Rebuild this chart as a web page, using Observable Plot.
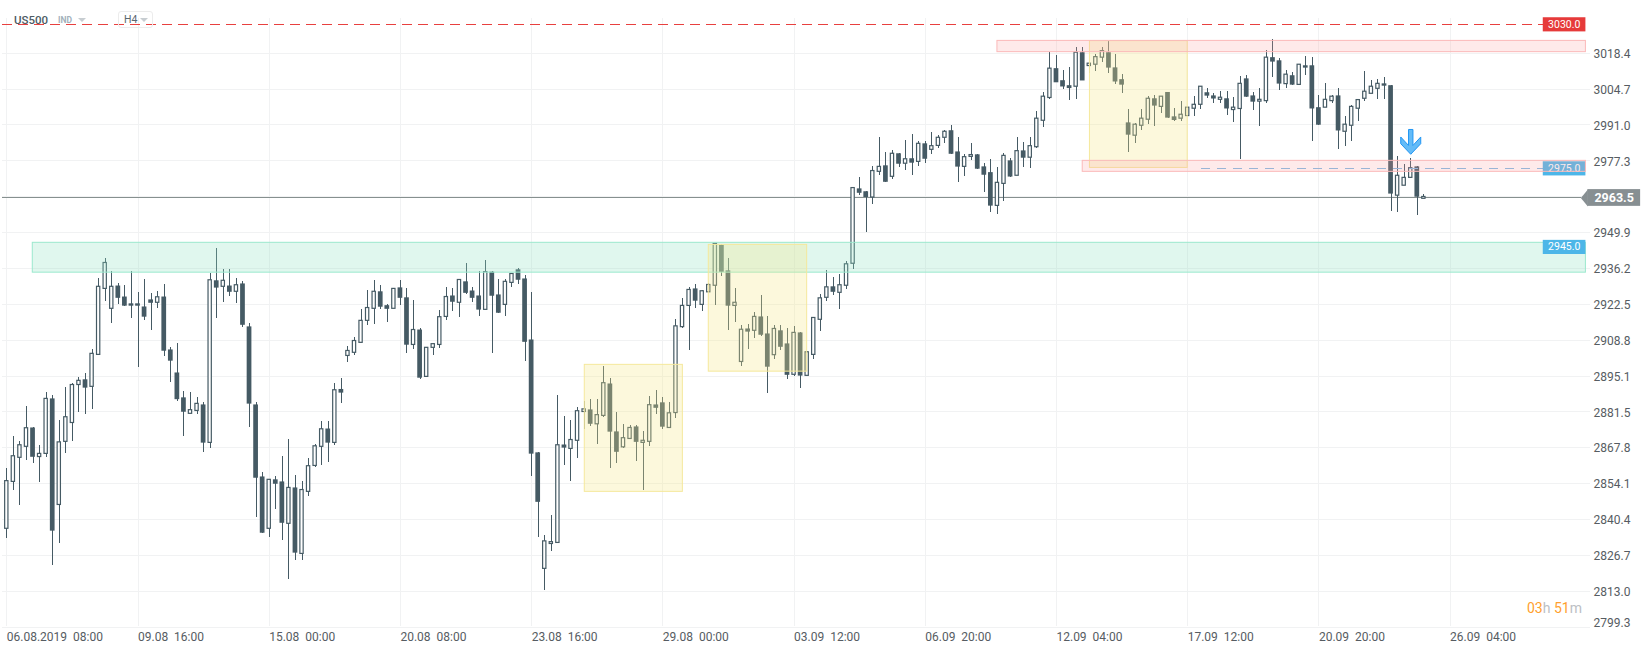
<!DOCTYPE html>
<html>
<head>
<meta charset="utf-8">
<script src="https://cdn.jsdelivr.net/npm/d3@7"></script>
<script src="https://cdn.jsdelivr.net/npm/@observablehq/plot@0.6"></script>
<style>
html,body{margin:0;padding:0;background:#fff;font-family:Roboto,sans-serif;}
#wrap{position:relative;width:1652px;height:652px;overflow:hidden;}
#wrap svg{display:block;}
.hd{position:absolute;white-space:nowrap;line-height:1;}
</style>
</head>
<body>
<div id="wrap">
  <div class="hd" style="left:14px;top:15px;font-size:11.5px;font-weight:500;color:#4d5b64;">US500</div>
  <div class="hd" style="left:58px;top:16px;font-size:8.5px;font-weight:700;color:#a3b1bb;">IND</div>
  <div class="hd" style="left:118px;top:11px;width:35px;height:17px;border:1px solid #ececec;border-radius:3px;box-sizing:border-box;"></div>
  <div class="hd" style="left:124px;top:15px;font-size:10.5px;color:#5b6870;">H4</div>
  <div class="hd" style="left:1527px;top:601px;font-size:14px;"><span style="color:#ff9f2e">03</span><span style="color:#bcc0c4">h</span>&nbsp;<span style="color:#ff9f2e">51</span><span style="color:#bcc0c4">m</span></div>
</div>
<script>
const high = [
2859.7,2872.0,2870.1,2883.5,2875.3,2868.6,2888.7,2887.7,2878.1,2890.7,
2892.2,2894.5,2896.1,2905.1,2932.2,2940.0,2935.0,2930.4,2929.7,2935.0,
2927.0,2932.0,2926.6,2927.4,2930.1,2906.0,2907.5,2889.4,2888.8,2886.9,
2885.2,2934.4,2943.8,2935.7,2935.7,2932.2,2931.2,2915.2,2884.9,2858.3,
2855.5,2856.7,2864.4,2870.9,2857.1,2854.8,2863.6,2868.8,2877.7,2877.7,
2892.2,2894.2,2906.4,2909.8,2920.5,2927.8,2931.5,2929.7,2922.3,2928.4,
2931.6,2928.5,2923.9,2913.1,2905.9,2907.4,2920.1,2928.9,2928.5,2931.8,
2938.1,2928.9,2935.0,2939.2,2935.0,2932.0,2932.0,2934.1,2936.2,2933.4,
2927.0,2865.8,2834.2,2841.8,2887.7,2879.6,2878.1,2883.3,2885.4,2886.0,
2886.1,2898.7,2894.0,2881.2,2876.6,2876.2,2876.1,2873.9,2887.3,2889.6,
2886.8,2885.0,2916.7,2924.8,2928.8,2930.1,2927.9,2930.3,2945.7,2945.3,
2940.0,2928.5,2914.4,2914.8,2919.4,2925.9,2917.8,2914.4,2914.3,2913.1,
2914.0,2911.7,2904.5,2917.3,2926.2,2935.4,2932.6,2933.9,2938.9,2967.0,
2970.9,2965.6,2975.0,2986.1,2980.4,2981.2,2980.1,2985.1,2987.4,2984.8,
2984.6,2988.1,2987.1,2988.9,2990.8,2986.1,2979.7,2983.9,2979.7,2976.3,
2977.7,2974.8,2980.1,2978.1,2986.1,2984.2,2986.1,2996.2,3003.3,3018.7,
3017.6,3011.7,3013.0,3020.5,3020.5,3014.5,3017.8,3020.5,3022.9,3017.9,
3010.2,2996.9,2991.7,2996.9,3001.9,3002.1,3001.8,3003.4,2997.2,3000.0,
2997.6,3001.9,3005.6,3004.9,3002.9,3003.8,3003.8,3001.5,3009.4,3009.9,
3003.4,3004.9,3019.5,3023.5,3016.4,3011.8,3010.9,3014.0,3017.0,3016.7,
3002.3,3006.9,3002.3,3004.8,2994.3,2998.5,3000.6,3011.4,3007.9,3008.4,
3009.2,3006.0,2978.9,2975.8,2978.1,2975.0,2964.3];
const low = [
2833.2,2851.5,2845.8,2863.0,2861.8,2854.6,2864.1,2822.9,2831.3,2865.6,
2870.2,2881.3,2880.5,2882.4,2903.2,2923.7,2915.3,2922.5,2921.8,2917.2,
2898.5,2916.4,2912.6,2921.0,2902.7,2892.8,2885.5,2872.1,2880.7,2880.5,
2866.0,2867.6,2917.2,2923.3,2925.6,2922.9,2913.8,2875.6,2841.2,2835.1,
2833.6,2844.3,2832.4,2817.5,2824.8,2824.8,2849.2,2860.3,2861.1,2862.2,
2868.7,2884.7,2900.4,2903.1,2907.8,2914.5,2914.9,2920.6,2915.7,2920.8,
2922.2,2903.8,2905.4,2893.9,2894.8,2903.1,2905.7,2916.4,2919.9,2917.6,
2926.2,2923.3,2918.0,2920.4,2903.8,2919.1,2918.0,2929.0,2930.2,2900.8,
2856.9,2833.6,2813.3,2828.2,2831.4,2861.1,2855.0,2863.7,2874.8,2876.0,
2869.1,2879.4,2859.9,2861.8,2867.6,2871.1,2862.6,2851.5,2868.3,2880.5,
2874.7,2875.3,2879.0,2913.1,2905.0,2921.0,2919.9,2927.1,2922.0,2933.3,
2912.6,2915.4,2898.9,2905.4,2909.6,2910.3,2888.6,2901.6,2905.0,2893.9,
2894.8,2890.5,2895.2,2901.6,2912.2,2923.7,2926.0,2920.6,2928.3,2935.9,
2964.2,2950.1,2960.7,2971.8,2969.1,2970.3,2974.9,2973.6,2971.8,2975.0,
2976.4,2979.8,2981.9,2984.0,2979.8,2969.1,2971.4,2977.6,2973.9,2965.3,
2957.7,2956.9,2961.9,2971.1,2971.6,2974.9,2974.5,2982.2,2990.2,3000.9,
3007.1,3004.7,3000.5,3000.9,3007.8,3010.8,3011.6,3014.9,3010.8,3006.6,
3003.0,2980.6,2984.1,2988.9,2991.3,2990.6,2995.4,2993.6,2992.5,2992.5,
2994.4,2994.1,2996.9,3001.1,2999.2,2999.3,2994.8,2992.1,2978.0,3001.6,
2996.7,2990.6,2999.3,3009.2,3004.3,3005.1,3006.2,3006.3,3009.7,2984.8,
2990.9,2997.6,2999.1,2981.8,2982.9,2984.8,2992.5,3000.1,3002.9,3000.9,
3000.9,2958.1,2957.7,2967.8,2970.7,2956.6,2962.8];
const open = [
2836.8,2854.7,2863.9,2868.1,2875.3,2864.2,2865.4,2886.4,2845.9,2870.0,
2877.2,2891.7,2893.7,2891.0,2903.2,2928.4,2920.8,2929.5,2925.3,2922.7,
2922.7,2921.5,2924.2,2923.1,2925.3,2905.1,2896.3,2886.8,2880.7,2881.8,
2884.1,2869.6,2931.5,2929.2,2929.5,2927.3,2930.3,2913.9,2884.1,2856.6,
2836.8,2855.5,2854.7,2838.7,2852.4,2827.2,2850.9,2860.8,2868.1,2874.9,
2869.6,2890.0,2902.8,2904.0,2907.8,2916.2,2920.8,2927.3,2922.0,2920.8,
2928.8,2925.0,2907.0,2912.7,2894.8,2905.9,2907.0,2917.7,2925.7,2923.1,
2931.1,2927.6,2925.7,2920.4,2934.8,2926.1,2922.3,2930.7,2935.7,2932.2,
2908.9,2865.8,2821.5,2831.0,2831.4,2868.8,2867.3,2870.4,2881.4,2882.2,
2876.7,2879.9,2892.1,2873.8,2867.9,2871.1,2875.7,2869.6,2870.0,2884.1,
2884.9,2875.3,2881.0,2913.8,2921.9,2928.4,2922.3,2927.1,2929.6,2945.0,
2935.3,2921.9,2900.5,2913.1,2912.4,2917.7,2911.2,2903.1,2912.4,2907.4,
2895.6,2911.6,2895.2,2903.2,2916.6,2925.0,2929.2,2926.9,2929.6,2938.0,
2966.6,2965.5,2963.3,2973.1,2975.4,2971.2,2980.0,2976.2,2978.1,2976.9,
2983.8,2981.5,2983.0,2986.1,2988.8,2980.7,2975.0,2978.8,2979.6,2975.0,
2972.8,2960.1,2968.5,2977.3,2971.6,2981.1,2978.5,2982.5,2992.6,3001.3,
3012.5,3007.9,3006.0,3005.6,3018.6,3013.5,3014.0,3016.7,3018.6,3012.8,
3008.3,2991.8,2986.9,2990.7,2993.0,3001.0,2997.9,3003.4,2994.1,2993.4,
2994.4,2997.2,2998.7,3003.3,3002.1,3000.6,3001.0,2996.7,2997.1,3008.6,
3002.1,2999.9,3000.1,3016.7,3015.5,3006.6,3009.8,3006.3,3013.6,3013.6,
2997.6,2997.6,3000.1,3002.1,2988.4,2990.7,2997.2,3001.0,3002.9,3004.8,
3006.7,3006.0,2964.0,2967.8,2970.8,2975.0,2962.8];
const close = [
2855.0,2864.5,2868.7,2875.2,2864.1,2865.4,2886.4,2835.9,2869.8,2879.4,
2891.7,2893.3,2890.5,2903.6,2929.2,2938.3,2929.2,2924.8,2921.8,2921.8,
2921.8,2917.6,2922.9,2925.2,2904.6,2900.8,2886.1,2881.3,2882.1,2884.5,
2869.5,2931.7,2928.7,2931.5,2927.1,2929.8,2914.5,2884.4,2856.1,2835.1,
2855.5,2853.8,2838.9,2852.4,2827.5,2851.6,2860.7,2868.3,2874.8,2869.5,
2889.7,2888.6,2904.7,2908.5,2916.2,2921.1,2927.3,2921.4,2920.6,2928.4,
2924.8,2906.9,2912.7,2894.3,2905.9,2907.3,2917.6,2925.3,2923.3,2931.8,
2926.7,2924.8,2920.3,2934.8,2925.6,2919.1,2931.1,2934.1,2931.7,2908.0,
2865.3,2846.9,2832.0,2831.7,2868.7,2867.6,2870.7,2881.7,2882.4,2876.7,
2880.2,2892.4,2873.7,2866.0,2871.4,2875.3,2869.8,2870.4,2884.0,2882.8,
2875.6,2880.9,2914.1,2921.9,2928.0,2923.7,2927.5,2929.9,2945.6,2934.7,
2921.8,2923.1,2912.8,2911.9,2917.7,2910.7,2898.5,2913.1,2906.1,2895.4,
2911.6,2895.1,2904.2,2917.3,2924.8,2929.0,2927.1,2929.8,2937.8,2966.9,
2964.9,2963.3,2973.4,2975.0,2969.1,2980.0,2976.0,2977.9,2976.4,2983.8,
2977.9,2982.9,2986.1,2988.4,2979.8,2974.9,2978.7,2979.5,2974.1,2971.8,
2960.0,2968.9,2979.2,2971.1,2981.0,2978.3,2982.9,2993.4,3001.8,3012.5,
3007.1,3005.5,3004.9,3018.6,3007.8,3014.4,3016.9,3019.2,3012.7,3007.4,
3006.2,2987.1,2991.1,2993.4,3001.0,2998.2,3001.8,2993.6,2992.7,2994.9,
2997.6,2998.7,3005.6,3002.0,3000.9,3001.4,2997.1,2997.6,3006.7,3001.6,
2999.7,3000.6,3016.7,3015.0,3006.6,3010.2,3006.2,3014.0,3012.7,2997.1,
2990.9,3000.6,3001.8,2988.7,2991.1,2997.9,3000.5,3003.7,3005.6,3006.7,
3005.8,2964.6,2971.6,2970.8,2974.5,2963.4,2963.5];

// axis
const xTickIndex = [0,20,40,60,80,100,120,140,160,180,200,220];
const xTickLabels = ["06.08.2019  08:00","09.08  16:00","15.08  00:00","20.08  08:00","23.08  16:00","29.08  00:00","03.09  12:00","06.09  20:00","12.09  04:00","17.09  12:00","20.09  20:00","26.09  04:00"];
const yGrid = [3018.4,3004.7,2991.0,2977.3,2963.6,2949.9,2936.2,2922.5,2908.8,2895.1,2881.5,2867.8,2854.1,2840.4,2826.7,2813.0,2799.3];
const yLabels = [3018.4,3004.7,2991.0,2977.3,2949.9,2936.2,2922.5,2908.8,2895.1,2881.5,2867.8,2854.1,2840.4,2826.7,2813.0];
const yLabelLast = [2799.3];

// zones (candle index, price)
const zoneX1 = [3.96,88.1,107.0,165.1,151.0,164.0];
const zoneX2 = [240.7,103.05,122.0,180.0,240.7,240.7];
const zoneTop = [2946.0,2899.4,2945.2,3023.0,3023.1,2977.3];
const zoneBottom = [2934.6,2850.9,2896.8,2974.6,3018.8,2973.1];
const zoneKind = ["green","yellow","yellow","yellow","red","red"];

// levels
const resistancePrice = 3030.0;
const pendingPrice = 2975.0;
const supportPrice = 2945.0;
const lastPrice = 2963.5;
const arrowAt = {i:214.0,price:2984.5};

const candles = open.map((o,i)=>({i,open:o,close:close[i],high:high[i],low:low[i],up:close[i]>=o}));
const ink = "#455a64";
const zones = zoneX1.map((x,k)=>({x1:x,x2:zoneX2[k],y1:zoneTop[k],y2:zoneBottom[k],kind:zoneKind[k]}));
const zoneFill = {green:"#8fe3c3",yellow:"#f5e88a",red:"#fa9f9f"};
const zoneFillOp = {green:.28,yellow:.3,red:.22};
const zoneStroke = {green:"#9be8cd",yellow:"#f5e89c",red:"#fbb9b9"};

const arrowSymbol = {draw(c){
  c.moveTo(-2.2,-12.5);c.lineTo(2.2,-12.5);c.lineTo(2.2,3.5);c.lineTo(10,-5);c.lineTo(10,1.7);
  c.lineTo(0,12.3);c.lineTo(-10,1.7);c.lineTo(-10,-5);c.lineTo(-2.2,3.5);c.closePath();
}};
const tagTip = {draw(c){c.moveTo(-7,0);c.lineTo(0,-8.4);c.lineTo(0,8.4);c.closePath();}};

const levelBox = (p,fill)=>Plot.rect([p],{x1:()=>234.2,x2:()=>240.7,y1:d=>d+2.7,y2:d=>d-2.7,fill,dy:2});
const levelText = (p)=>Plot.text([p],{x:()=>237.4,y:d=>d,text:d=>d.toFixed(1),fill:"#fff",fontSize:10.5,dy:1.5});
const crisp = {shapeRendering:"crispEdges"};

const chart = Plot.plot({
  width:1652,height:652,
  marginLeft:2,marginRight:62,marginTop:18,marginBottom:26,
  style:{fontFamily:"Roboto, sans-serif",background:"transparent",overflow:"visible"},
  x:{domain:[-0.655,241.4],range:[2,1590],axis:null},
  y:{domain:[3018.4,2799.3],range:[52.7,626.5],axis:null},
  marks:[
    Plot.gridY(yGrid,{stroke:"#f1f2f3",strokeOpacity:1,strokeWidth:1,...crisp}),
    Plot.gridX(xTickIndex,{stroke:"#f1f2f3",strokeOpacity:1,strokeWidth:1,...crisp}),
    Plot.ruleY([lastPrice],{x1:()=>-0.65,x2:()=>240,stroke:"#86908f",strokeWidth:1,dy:0.5,...crisp}),
    Plot.ruleX(candles,{x:"i",y1:"low",y2:"high",stroke:ink,strokeWidth:1,...crisp}),
    Plot.rect(candles.filter(d=>d.up),{x1:d=>d.i-0.25,x2:d=>d.i+0.25,y1:"open",y2:"close",fill:"#fff",stroke:ink,strokeWidth:1.2}),
    Plot.rect(candles.filter(d=>!d.up),{x1:d=>d.i-0.36,x2:d=>d.i+0.36,y1:"open",y2:"close",fill:ink}),
    Plot.ruleY([resistancePrice],{x1:()=>-0.65,x2:()=>234.2,stroke:"#e8403f",strokeWidth:1,strokeDasharray:"10 6",dy:1.5,...crisp}),
    Plot.ruleY([pendingPrice],{x1:()=>182.1,x2:()=>234.2,stroke:"#7fbbe6",strokeWidth:1,strokeDasharray:"9 7",dy:1.5,...crisp}),
    levelBox(resistancePrice,"#e63a3a"),
    levelText(resistancePrice),
    levelBox(pendingPrice,"#4db6e8"),
    levelText(pendingPrice),
    Plot.rect(zones,{x1:"x1",x2:"x2",y1:"y1",y2:"y2",fill:d=>zoneFill[d.kind],fillOpacity:d=>zoneFillOp[d.kind],stroke:d=>zoneStroke[d.kind],strokeWidth:1}),
    levelBox(supportPrice,"#4db6e8"),
    levelText(supportPrice),
    Plot.dot([arrowAt],{x:"i",y:"price",symbol:()=>arrowSymbol,fill:"#63bbf7",stroke:"#2196f3",strokeWidth:1}),
    Plot.rect([lastPrice],{x1:()=>241,x2:()=>249.04,y1:d=>d+3.2,y2:d=>d-3.2,fill:"#878f92",dy:1}),
    Plot.dot([lastPrice],{x:()=>241,y:d=>d,symbol:()=>tagTip,fill:"#878f92",stroke:"none",dy:1}),
    Plot.text([lastPrice],{x:()=>245.0,y:d=>d,text:d=>d.toFixed(1),fill:"#fff",fontWeight:700,fontSize:12.5,dy:1}),
    Plot.axisX({ticks:xTickIndex,anchor:"bottom",label:null,tickSize:0,tickPadding:6,textAnchor:"start",fontSize:12,fill:"#565c62",
      tickFormat:d=>xTickLabels[xTickIndex.indexOf(d)].replace(/ /g,"\u00a0")}),
    Plot.axisY({ticks:yLabels,anchor:"right",label:null,tickSize:0,tickPadding:3,textAnchor:"start",fontSize:12,fill:"#565c62",tickFormat:d=>d.toFixed(1),dy:1}),
    Plot.axisY({ticks:yLabelLast,anchor:"right",label:null,tickSize:0,tickPadding:3,textAnchor:"start",fontSize:12,fill:"#565c62",tickFormat:d=>d.toFixed(1),dy:-4})
  ]
});
const wrap = document.getElementById("wrap");
wrap.insertBefore(chart,wrap.firstChild);
// header dropdown carets
d3.select(wrap).append("svg").attr("width",1652).attr("height",40)
  .style("position","absolute").style("left",0).style("top",0).style("pointer-events","none")
  .selectAll("path").data([[78,18],[140,18]]).join("path")
  .attr("d",d=>`M${d[0]},${d[1]}h8l-4,4z`).attr("fill","#c7cdd1");
</script>
</body>
</html>
